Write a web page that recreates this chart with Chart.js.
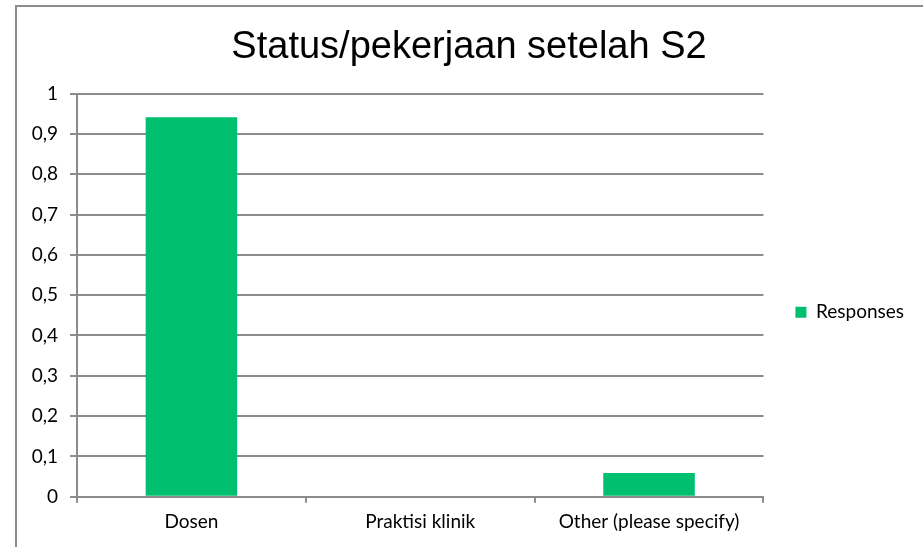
<!DOCTYPE html>
<html lang="en">
<head>
    <meta charset="UTF-8">
    <title>Status/pekerjaan setelah S2</title>
    <script src="https://cdn.jsdelivr.net/npm/chart.js"></script>
    <style>
        html, body { margin: 0; padding: 0; overflow: hidden; background: #fff; }
        #wrap { position: relative; width: 923px; height: 547px; }
        #frame {
            position: absolute; left: 15px; top: 5px; width: 920px; height: 560px;
            border-left: 2px solid #8c8c8c; border-top: 2px solid #8c8c8c;
        }
        canvas { position: absolute; left: 0; top: 0; }
    </style>
</head>
<body>
<div id="wrap">
    <div id="frame"></div>
    <canvas id="statusChart" width="923" height="547"></canvas>
</div>

<script>
    // data
    const categories = ['Dosen', 'Praktisi klinik', 'Other (please specify)'];
    const responses = [0.9412, 0, 0.0588];
    const yTickLabels = ['0', '0,1', '0,2', '0,3', '0,4', '0,5', '0,6', '0,7', '0,8', '0,9', '1'];

    const gridGrey = '#8c8c8c';
    const labelFont = { family: 'Lato', size: 19 };

    const config = {
        type: 'bar',
        data: {
            labels: categories,
            datasets: [{
                label: 'Responses',
                data: responses,
                backgroundColor: '#00bf6f',
                barPercentage: 0.4,
                categoryPercentage: 1
            }]
        },
        options: {
            responsive: false,
            animation: false,
            layout: { padding: { left: 24, right: 9, top: 0, bottom: 5.5 } },
            plugins: {
                title: {
                    display: true,
                    text: 'Status/pekerjaan setelah S2',
                    color: '#000',
                    font: { family: 'Liberation Sans', size: 38, weight: 'normal' },
                    padding: { top: 25, bottom: 23 }
                },
                legend: {
                    position: 'right',
                    fullSize: false,
                    // empty title just pushes the entry down a little
                    title: { display: true, text: '', padding: { top: 10, bottom: 10 } },
                    labels: {
                        color: '#000',
                        font: labelFont,
                        boxWidth: 11,
                        boxHeight: 11,
                        padding: 32
                    }
                },
                tooltip: { enabled: false }
            },
            scales: {
                y: {
                    min: 0,
                    max: 1,
                    afterFit: (scale) => { scale.width = 53; },
                    ticks: {
                        stepSize: 0.1,
                        color: '#000',
                        font: labelFont,
                        padding: 12,
                        callback: (v, i) => yTickLabels[i]
                    },
                    grid: { color: gridGrey, lineWidth: 2, tickLength: 7 },
                    border: { color: gridGrey, width: 2 }
                },
                x: {
                    ticks: { color: '#000', font: labelFont, padding: 8 },
                    grid: { offset: true, drawOnChartArea: false, color: gridGrey, lineWidth: 2, tickLength: 6 },
                    border: { color: gridGrey, width: 2 }
                }
            }
        }
    };

    new Chart(document.getElementById('statusChart'), config);
</script>
</body>
</html>
